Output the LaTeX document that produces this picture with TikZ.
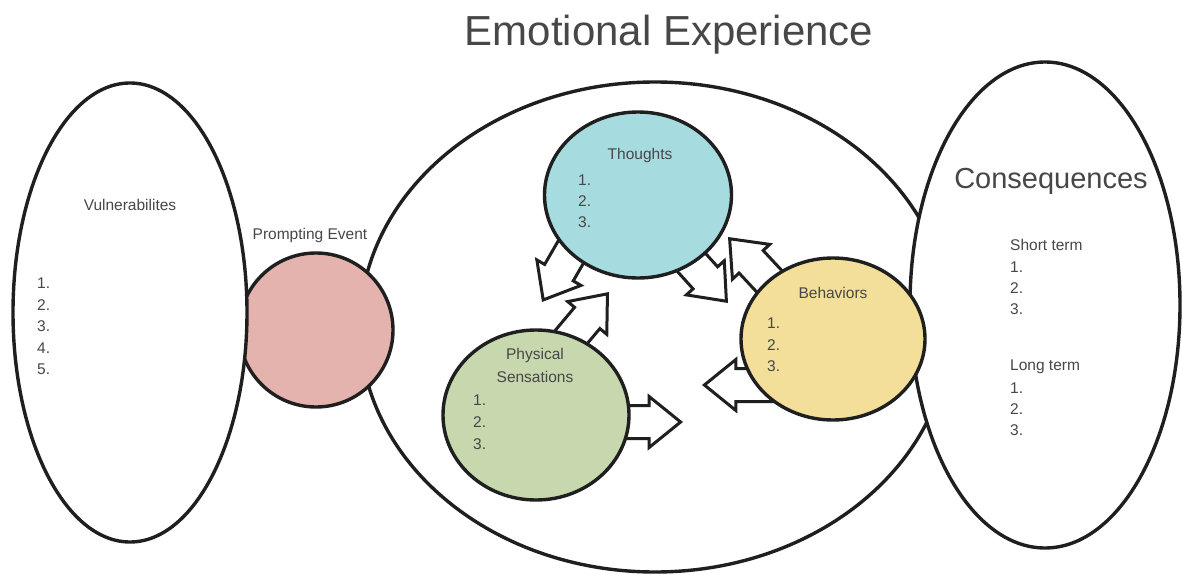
\documentclass[tikz,border=0pt]{standalone}
\usepackage{fontspec}
\setmainfont{Liberation Sans}
\usetikzlibrary{shapes.geometric,shapes.arrows}

\definecolor{inkgray}{HTML}{474747}
\definecolor{pinkfill}{HTML}{E4B3AD}
\definecolor{cyanfill}{HTML}{A6DBE0}
\definecolor{greenfill}{HTML}{C7D7AE}
\definecolor{yellowfill}{HTML}{F3DF9A}

\tikzset{
	oval/.style={ellipse, draw=black!88, line width=3.4pt, fill=white, inner sep=0pt},
	txt/.style={text=inkgray, inner sep=0pt, anchor=base, font=\fontsize{15.5}{18}\selectfont},
	item/.style={txt, anchor=base west},
	blockarrow/.style={single arrow, draw=black!88, fill=white, line width=3pt,
		inner xsep=0pt, inner ysep=15pt, minimum width=48pt,
		single arrow head extend=9pt, single arrow tip angle=78, anchor=tip}
}

\begin{document}
\begin{tikzpicture}[x=1pt,y=1pt]
	\useasboundingbox (0,0) rectangle (1183,-575);

	% title
	\node[txt, text=black!72, font=\fontsize{42}{48}\selectfont] (title) at (669,-46) {Emotional Experience};

	% the emotion itself and what follows from it
	\node[oval, minimum width=590pt, minimum height=490pt] (emotion) at (655,-327) {};
	\node[oval, minimum width=270pt, minimum height=486pt] (conseq) at (1045,-305) {};

	% block arrows between the three parts
	\node[blockarrow, rotate=240, minimum height=70pt] (tp) at (542,-302) {};
	\node[blockarrow, rotate=50, minimum height=70pt] (pt) at (609,-292) {};
	\node[blockarrow, rotate=-48, minimum height=62pt] (tb) at (728,-303) {};
	\node[blockarrow, rotate=133, minimum height=72pt] (bt) at (728,-237) {};
	\node[blockarrow, rotate=0, minimum height=62pt] (pb) at (683,-422) {};
	\node[blockarrow, rotate=180, minimum height=76pt] (bp) at (702,-385) {};

	\node[oval, fill=cyanfill, minimum width=187pt, minimum height=166pt] (thoughts) at (638,-195) {};
	\node[oval, fill=greenfill, minimum width=186pt, minimum height=170pt] (phys) at (536,-415) {};
	\node[oval, fill=yellowfill, minimum width=184pt, minimum height=162pt] (behav) at (833,-339) {};

	\node[oval, fill=pinkfill, minimum width=154pt, minimum height=154pt] (prompt) at (316,-330) {};
	\node[oval, minimum width=234pt, minimum height=459pt] (vuln) at (130,-312.5) {};

	% labels
	\node[txt] (vulntitle) at (130,-210.5) {Vulnerabilites};
	\foreach \i in {1,...,5}
		\node[item] (vuln-\i) at (37,{-288.5-21.5*(\i-1)}) {\i.};

	\node[txt] (prompttitle) at (310,-239.5) {Prompting Event};

	\node[txt] (thoughtstitle) at (640,-159.5) {Thoughts};
	\foreach \i in {1,2,3}
		\node[item] (thoughts-\i) at (578,{-185.5-20.8*(\i-1)}) {\i.};

	\node[txt] (physA) at (535,-359.5) {Physical};
	\node[txt] (physB) at (535,-382.5) {Sensations};
	\foreach \i in {1,2,3}
		\node[item] (phys-\i) at (473,{-405.5-22*(\i-1)}) {\i.};

	\node[txt] (behavtitle) at (833,-298.5) {Behaviors};
	\foreach \i in {1,2,3}
		\node[item] (behav-\i) at (767,{-328.5-21.5*(\i-1)}) {\i.};

	\node[txt, font=\fontsize{29}{34}\selectfont] (conseqtitle) at (1051,-188.4) {Consequences};
	\node[item] (short) at (1010,-250.5) {Short term};
	\foreach \i in {1,2,3}
		\node[item] (short-\i) at (1010,{-272.5-21*(\i-1)}) {\i.};
	\node[item] (long) at (1010,-370.5) {Long term};
	\foreach \i in {1,2,3}
		\node[item] (long-\i) at (1010,{-393.5-21*(\i-1)}) {\i.};
\end{tikzpicture}
\end{document}
